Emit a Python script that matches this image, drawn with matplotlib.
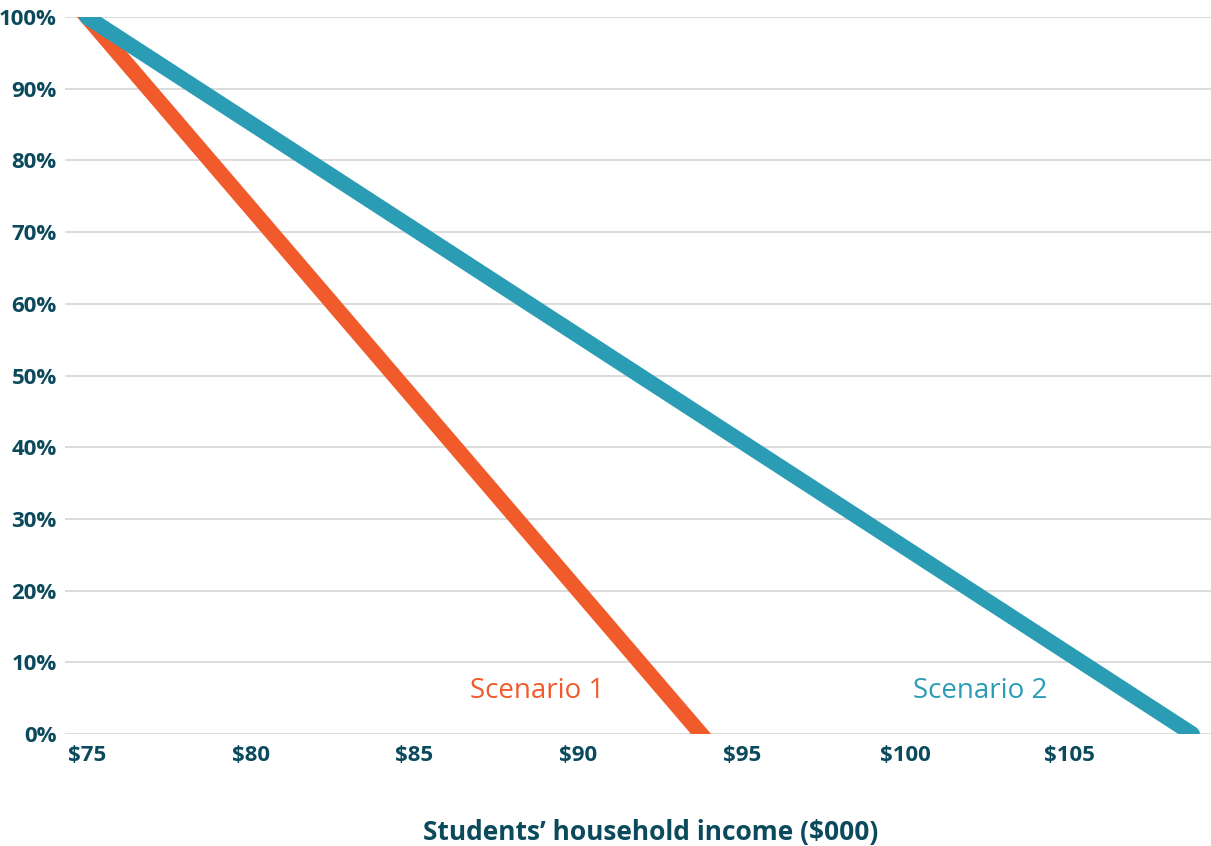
import matplotlib
matplotlib.use("Agg")
import matplotlib.pyplot as plt

# Share of students eligible vs. household income ($000)
income_s1 = [75, 93.75]
share_s1 = [100, 0]
income_s2 = [75, 108.75]
share_s2 = [100, 0]

x_ticks = [75, 80, 85, 90, 95, 100, 105]
x_tick_labels = ["$75", "$80", "$85", "$90", "$95", "$100", "$105"]
y_ticks = [0, 10, 20, 30, 40, 50, 60, 70, 80, 90, 100]
y_tick_labels = [f"{v}%" for v in y_ticks]

ORANGE = "#F15A2B"
TEAL = "#2A9DB5"
DARK = "#0B4A5C"
GRID = "#D9D9D9"

plt.rcParams["font.family"] = ["Open Sans", "DejaVu Sans"]

W, H = 1211, 846
fig = plt.figure(figsize=(W / 100, H / 100), dpi=100)
ax = fig.add_axes([65 / W, (H - 734) / H, (W - 65) / W, (734 - 17) / H])

ax.set_xlim(74.33, 109.32)
ax.set_ylim(0, 100)

for y in y_ticks:
    ax.axhline(y, color=GRID, lw=1.3, zorder=1)

ax.plot(income_s1, share_s1, color=ORANGE, lw=11, solid_capstyle="projecting", zorder=3)
ax.plot(income_s2, share_s2, color=TEAL, lw=11, solid_capstyle="round", zorder=4)

ax.text(88.74, 6.0, "Scenario 1", color=ORANGE, fontsize=20, ha="center", va="center")
ax.text(102.27, 6.0, "Scenario 2", color=TEAL, fontsize=20, ha="center", va="center")

ax.set_xticks(x_ticks)
ax.set_xticklabels(x_tick_labels)
ax.set_yticks(y_ticks)
ax.set_yticklabels(y_tick_labels)
ax.tick_params(axis="both", length=0, labelsize=16, labelcolor=DARK)
ax.tick_params(axis="x", pad=8)
ax.tick_params(axis="y", pad=6)
for lab in ax.get_xticklabels() + ax.get_yticklabels():
    lab.set_fontweight("bold")

for s in ax.spines.values():
    s.set_visible(False)

fig.text(651 / W, 1 - 832 / H, "Students\u2019 household income ($000)",
         color=DARK, fontsize=19, fontweight="bold", ha="center", va="center")

fig.savefig("out.png", dpi=100)
